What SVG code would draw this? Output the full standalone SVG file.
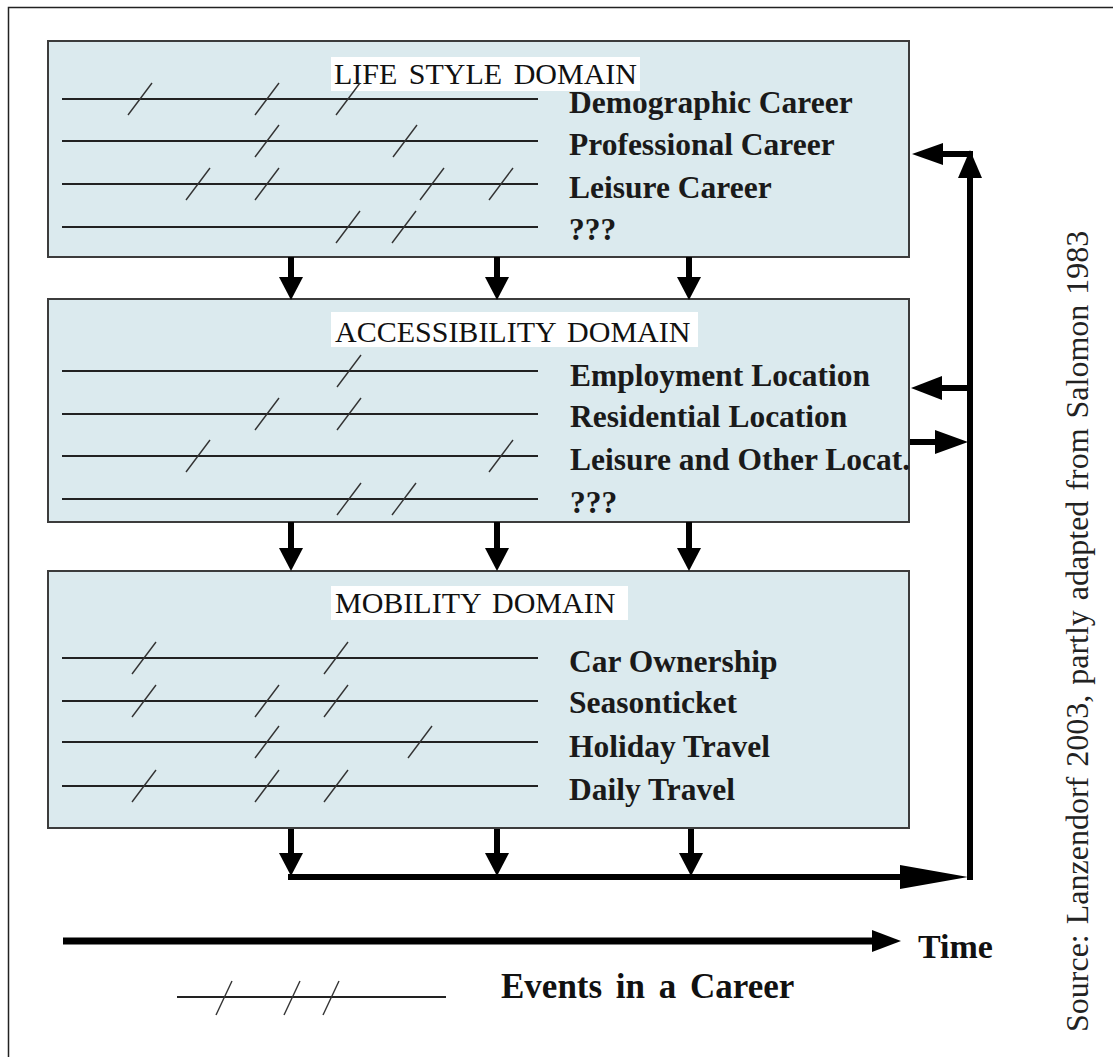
<svg xmlns="http://www.w3.org/2000/svg" width="1113" height="1057" viewBox="0 0 1113 1057">
<style>
.box{fill:#dbeaee;stroke:#3c3c3c;stroke-width:2}
.title{font-family:"Liberation Serif","Times New Roman",serif;font-size:30px;fill:#111;word-spacing:4px}
.tbg{fill:#ffffff}
.item{font-family:"Liberation Serif","Times New Roman",serif;font-size:31.5px;font-weight:bold;fill:#1a1a1a}
.big{font-family:"Liberation Serif","Times New Roman",serif;font-weight:bold;fill:#111}
.src{font-family:"Liberation Serif","Times New Roman",serif;font-size:32px;fill:#222;word-spacing:2px}
.cl{stroke:#222;stroke-width:1.8;fill:none}
.tk{stroke:#333;stroke-width:1.4;fill:none}
.shaft{stroke:#000;stroke-width:6;fill:none}
.head{fill:#000}
</style>
<defs>
<path id="tick" class="tk" d="M-12,16 L12,-16"/>
<path id="ltick" class="tk" d="M-8,17 L8,-17"/>
</defs>
<path d="M8.5,1057 V7.5 H1113" fill="none" stroke="#222" stroke-width="1.5"/>

<g id="lifestyle">
<rect class="box" x="48" y="41" width="861" height="216"/>
<rect class="tbg" x="331" y="57" width="309" height="34"/>
<text class="title" x="334" y="84">LIFE STYLE DOMAIN</text>
<line class="cl" x1="62" y1="99" x2="538" y2="99"/>
<line class="cl" x1="62" y1="141" x2="538" y2="141"/>
<line class="cl" x1="62" y1="184" x2="538" y2="184"/>
<line class="cl" x1="62" y1="227" x2="538" y2="227"/>
<use href="#tick" x="140" y="99"/><use href="#tick" x="267" y="99"/><use href="#tick" x="348" y="99"/>
<use href="#tick" x="267" y="141"/><use href="#tick" x="405" y="141"/>
<use href="#tick" x="198" y="184"/><use href="#tick" x="267" y="184"/><use href="#tick" x="432" y="184"/><use href="#tick" x="501" y="184"/>
<use href="#tick" x="348" y="227"/><use href="#tick" x="404" y="227"/>
<text class="item" x="569" y="113">Demographic  Career</text>
<text class="item" x="569" y="155">Professional Career</text>
<text class="item" x="569" y="198">Leisure Career</text>
<text class="item" x="569" y="240">???</text>
</g>

<g id="accessibility">
<rect class="box" x="48" y="299" width="861" height="223"/>
<rect class="tbg" x="331" y="312" width="367" height="35"/>
<text class="title" x="335" y="342">ACCESSIBILITY DOMAIN</text>
<line class="cl" x1="62" y1="371" x2="538" y2="371"/>
<line class="cl" x1="62" y1="414" x2="538" y2="414"/>
<line class="cl" x1="62" y1="456" x2="538" y2="456"/>
<line class="cl" x1="62" y1="499" x2="538" y2="499"/>
<use href="#tick" x="349" y="371"/>
<use href="#tick" x="267" y="414"/><use href="#tick" x="349" y="414"/>
<use href="#tick" x="198" y="456"/><use href="#tick" x="501" y="456"/>
<use href="#tick" x="349" y="499"/><use href="#tick" x="404" y="499"/>
<text class="item" x="570" y="386">Employment  Location</text>
<text class="item" x="570" y="427">Residential Location</text>
<text class="item" x="570" y="470">Leisure and Other Locat.</text>
<text class="item" x="570" y="513">???</text>
</g>

<g id="mobility">
<rect class="box" x="48" y="571" width="861" height="257"/>
<rect class="tbg" x="331" y="586" width="297" height="34"/>
<text class="title" x="335" y="613">MOBILITY DOMAIN</text>
<line class="cl" x1="62" y1="658" x2="538" y2="658"/>
<line class="cl" x1="62" y1="701" x2="538" y2="701"/>
<line class="cl" x1="62" y1="742" x2="538" y2="742"/>
<line class="cl" x1="62" y1="786" x2="538" y2="786"/>
<use href="#tick" x="144" y="658"/><use href="#tick" x="336" y="658"/>
<use href="#tick" x="144" y="701"/><use href="#tick" x="267" y="701"/><use href="#tick" x="336" y="701"/>
<use href="#tick" x="267" y="742"/><use href="#tick" x="420" y="742"/>
<use href="#tick" x="144" y="786"/><use href="#tick" x="267" y="786"/><use href="#tick" x="336" y="786"/>
<text class="item" x="569" y="672">Car Ownership</text>
<text class="item" x="569" y="713">Seasonticket</text>
<text class="item" x="569" y="757">Holiday Travel</text>
<text class="item" x="569" y="800">Daily Travel</text>
</g>

<g id="connectors">
<line class="shaft" x1="291" y1="257" x2="291" y2="278"/><path class="head" d="M279,277 H303 L291,300 Z"/>
<line class="shaft" x1="497" y1="257" x2="497" y2="278"/><path class="head" d="M485,277 H509 L497,300 Z"/>
<line class="shaft" x1="689" y1="257" x2="689" y2="278"/><path class="head" d="M677,277 H701 L689,300 Z"/>
<line class="shaft" x1="291" y1="522" x2="291" y2="549"/><path class="head" d="M279,548 H303 L291,571 Z"/>
<line class="shaft" x1="497" y1="522" x2="497" y2="549"/><path class="head" d="M485,548 H509 L497,571 Z"/>
<line class="shaft" x1="689" y1="522" x2="689" y2="549"/><path class="head" d="M677,548 H701 L689,571 Z"/>
<line class="shaft" x1="291" y1="829" x2="291" y2="854"/><path class="head" d="M279,853 H303 L291,876 Z"/>
<line class="shaft" x1="497" y1="829" x2="497" y2="854"/><path class="head" d="M485,853 H509 L497,876 Z"/>
<line class="shaft" x1="691" y1="829" x2="691" y2="854"/><path class="head" d="M679,853 H703 L691,876 Z"/>
<line class="shaft" x1="288" y1="877" x2="902" y2="877"/><path class="head" d="M900,865 L968,877 L900,889 Z"/>
<line class="shaft" x1="970" y1="880" x2="970" y2="176"/><path class="head" d="M958,178 H982 L970,150 Z"/>
<line class="shaft" x1="973" y1="154" x2="941" y2="154"/><path class="head" d="M943,143 V165 L912,154 Z"/>
<line class="shaft" x1="970" y1="388" x2="940" y2="388"/><path class="head" d="M942,376 V400 L911,388 Z"/>
<line class="shaft" x1="910" y1="442" x2="937" y2="442"/><path class="head" d="M935,430 V454 L968,442 Z"/>
</g>

<g id="time">
<line x1="63" y1="941" x2="874" y2="941" stroke="#000" stroke-width="7"/>
<path class="head" d="M872,930 V952 L901,941 Z"/>
<text class="big" x="918" y="958" font-size="34">Time</text>
</g>

<g id="legend">
<line class="cl" x1="177" y1="997" x2="446" y2="997"/>
<use href="#ltick" x="224" y="998"/><use href="#ltick" x="292" y="998"/><use href="#ltick" x="331" y="998"/>
<text class="big" x="501" y="998" font-size="35" word-spacing="5">Events in a Career</text>
</g>

<g id="source">
<text class="src" transform="translate(1088,1032) rotate(-90)">Source:  Lanzendorf 2003, partly adapted from Salomon 1983</text>
</g>
</svg>
